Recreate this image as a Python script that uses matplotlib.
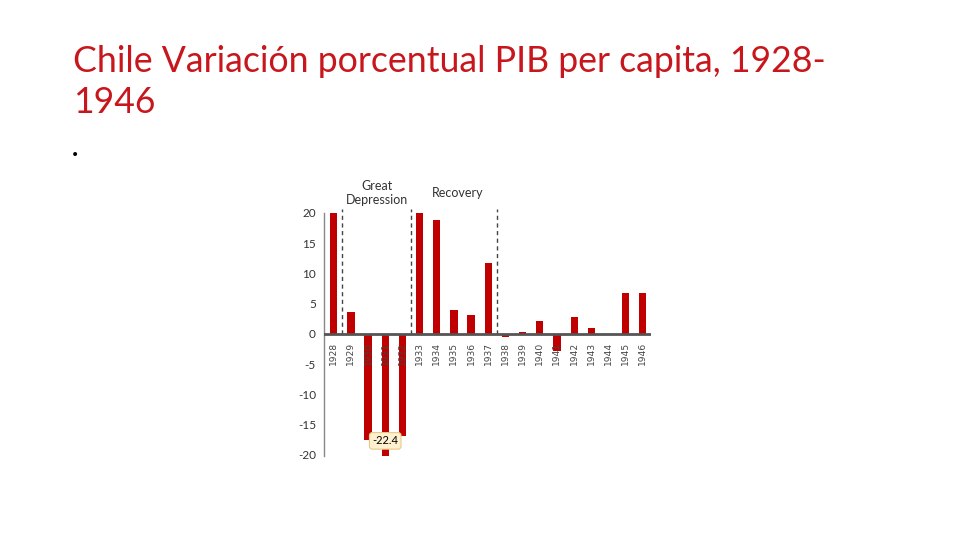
import matplotlib
matplotlib.use("Agg")
import matplotlib.pyplot as plt
import numpy as np

# Chile GDP per capita, % change per year
years = ["1928", "1929", "1930", "1931", "1932", "1933", "1934", "1935", "1936", "1937",
         "1938", "1939", "1940", "1941", "1942", "1943", "1944", "1945", "1946"]
growth = [20.0, 3.7, -17.5, -22.4, -16.9, 20.0, 18.9, 3.9, 3.1, 11.8,
          -0.6, 0.3, 2.1, -2.9, 2.8, 1.0, -0.2, 6.7, 6.7]
period_breaks = [0.5, 4.5, 9.5]
period_labels = ["Great\nDepression", "Recovery"]
period_label_x = [2.5, 7.2]
ytick_vals = [20, 15, 10, 5, 0, -5, -10, -15, -20]

red = "#c00000"
narrow = ["Lato", "DejaVu Sans"]

fig = plt.figure(figsize=(9.6, 5.4), dpi=100)
fig.patch.set_facecolor("white")

# slide title
title_font = ["Lato", "DejaVu Sans"]
fig.text(0.076, 0.867, "Chile Variación porcentual PIB per capita, 1928-",
         color="#c8161d", fontsize=25.7, family=title_font, va="baseline")
fig.text(0.076, 0.790, "1946", color="#c8161d", fontsize=25.7,
         family=title_font, va="baseline")
fig.text(0.074, 0.705, "•", color="black", fontsize=10, va="baseline")

ax = fig.add_axes([0.3378, 0.1556, 0.34, 0.45])
x = np.arange(len(years))
ax.bar(x, growth, width=0.42, color=red, zorder=2)

ax.set_xlim(-0.55, 18.46)
ax.set_ylim(-20.2, 20)
ax.axhline(0, color="#555555", lw=2, zorder=3)

for b in period_breaks:
    ax.plot([b, b], [0, 20.6], ls=(0, (3, 2.5)), color="#444444", lw=1,
            clip_on=False, zorder=1)

for lx, lab in zip(period_label_x, period_labels):
    ax.text(lx, 23.3, lab, ha="center", va="center", fontsize=9,
            family=narrow, color="#333333", linespacing=1.25)

# year labels under the zero line
for xi, yr in zip(x, years):
    ax.text(xi, -1.3, yr, rotation=90, ha="center", va="top", fontsize=6.6,
            family="DejaVu Sans", color="#444444", zorder=4)

# callout on the deepest year
i_min = int(np.argmin(growth))
ax.text(x[i_min], -17.7, f"{growth[i_min]:.1f}", ha="center", va="center",
        fontsize=8, family=narrow, color="black", zorder=5,
        bbox=dict(boxstyle="round,pad=0.25", fc="#fdf1cf", ec="#e8c98a", lw=0.8))

ax.set_yticks(ytick_vals)
ax.set_yticklabels([str(v) for v in ytick_vals], family=narrow, fontsize=8.5,
                   color="#333333")
ax.tick_params(axis="y", length=0, pad=6)
ax.set_xticks([])
for s in ["top", "right", "bottom"]:
    ax.spines[s].set_visible(False)
ax.spines["left"].set_color("#888888")
ax.spines["left"].set_linewidth(1)
ax.set_facecolor("white")

fig.savefig("out.png", dpi=100)
